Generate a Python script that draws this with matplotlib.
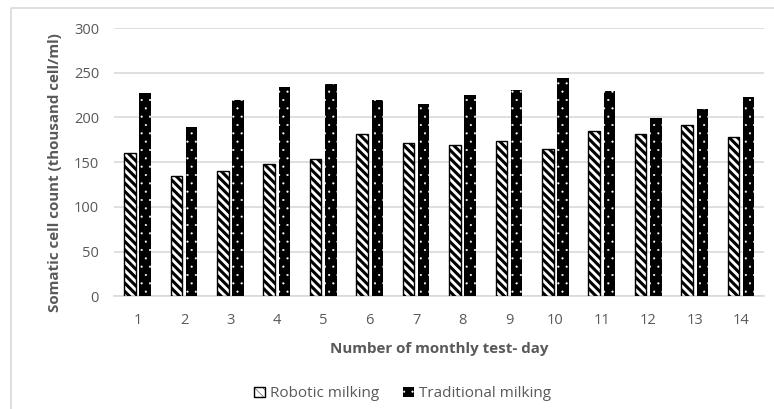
import matplotlib
matplotlib.use("Agg")
import matplotlib.pyplot as plt
import numpy as np
from matplotlib.patches import Patch
from matplotlib.lines import Line2D

# monthly test-day somatic cell counts (thousand cells/ml)
test_days = [1, 2, 3, 4, 5, 6, 7, 8, 9, 10, 11, 12, 13, 14]
robotic = [160, 134, 140, 148, 153, 181, 171, 169, 174, 165, 185, 181, 191, 178]
traditional = [227, 189, 220, 234, 237, 220, 215, 225, 231, 244, 229, 199, 209, 223]

GREY = "#595959"
GRID = "#d9d9d9"
STRIPES = "\\\\\\\\"
DOTS = ".."

plt.rcParams["font.family"] = ["Open Sans", "DejaVu Sans"]

fig = plt.figure(figsize=(7.74, 4.09), dpi=100)
ax = fig.add_axes([0.1477, 0.2758, 0.8398, 0.6557])

x = np.arange(len(test_days))
width = 0.248
offset = 0.164

# hatch line width is picked up when each patch is created
plt.rcParams["hatch.linewidth"] = 2.2
ax.bar(x - offset, robotic, width, color="white", edgecolor="black",
       hatch=STRIPES, linewidth=1.0, zorder=3)
rob_handle = Patch(facecolor="white", edgecolor="black", hatch=STRIPES,
                   linewidth=1.0)

plt.rcParams["hatch.linewidth"] = 0.3
ax.bar(x + offset, traditional, width, color="black", edgecolor="white",
       hatch=DOTS, linewidth=0, zorder=3)
trad_handle = Patch(facecolor="black", edgecolor="white", hatch=DOTS,
                    linewidth=0)

ax.set_xlim(-0.5, len(test_days) - 0.5)
ax.set_ylim(0, 300)
ax.set_yticks(range(0, 301, 50))
ax.set_xticks(x)
ax.set_xticklabels([str(d) for d in test_days])

ax.yaxis.grid(True, color=GRID, linewidth=1.2, zorder=0)
ax.set_axisbelow(True)
for side in ["top", "right", "left"]:
    ax.spines[side].set_visible(False)
ax.spines["bottom"].set_color(GRID)
ax.spines["bottom"].set_linewidth(1.2)
ax.tick_params(length=0, labelsize=10.5, labelcolor=GREY)
ax.tick_params(axis="y", pad=11)
ax.tick_params(axis="x", pad=12)

ax.set_ylabel("Somatic cell count (thousand cell/ml)", fontsize=10.9,
              fontweight="bold", color=GREY)
ax.yaxis.set_label_coords(-0.08, 0.461)
ax.set_xlabel("Number of monthly test- day", fontsize=10.9,
              fontweight="bold", color=GREY, labelpad=10)

leg = fig.legend([rob_handle, trad_handle],
                 ["Robotic milking", "Traditional milking"],
                 loc="center", bbox_to_anchor=(0.52, 0.037), ncol=2,
                 frameon=False, fontsize=11, handlelength=0.7,
                 handleheight=0.7, handletextpad=0.3, columnspacing=1.6)
for t in leg.get_texts():
    t.set_color(GREY)

# chart frame (top and left edges)
fig.add_artist(Line2D([10.5 / 774, 10.5 / 774, 1.0],
                      [0.0, 1 - 7.5 / 409, 1 - 7.5 / 409],
                      transform=fig.transFigure, color=GRID, linewidth=1.2))

fig.savefig("out.png", dpi=100)
